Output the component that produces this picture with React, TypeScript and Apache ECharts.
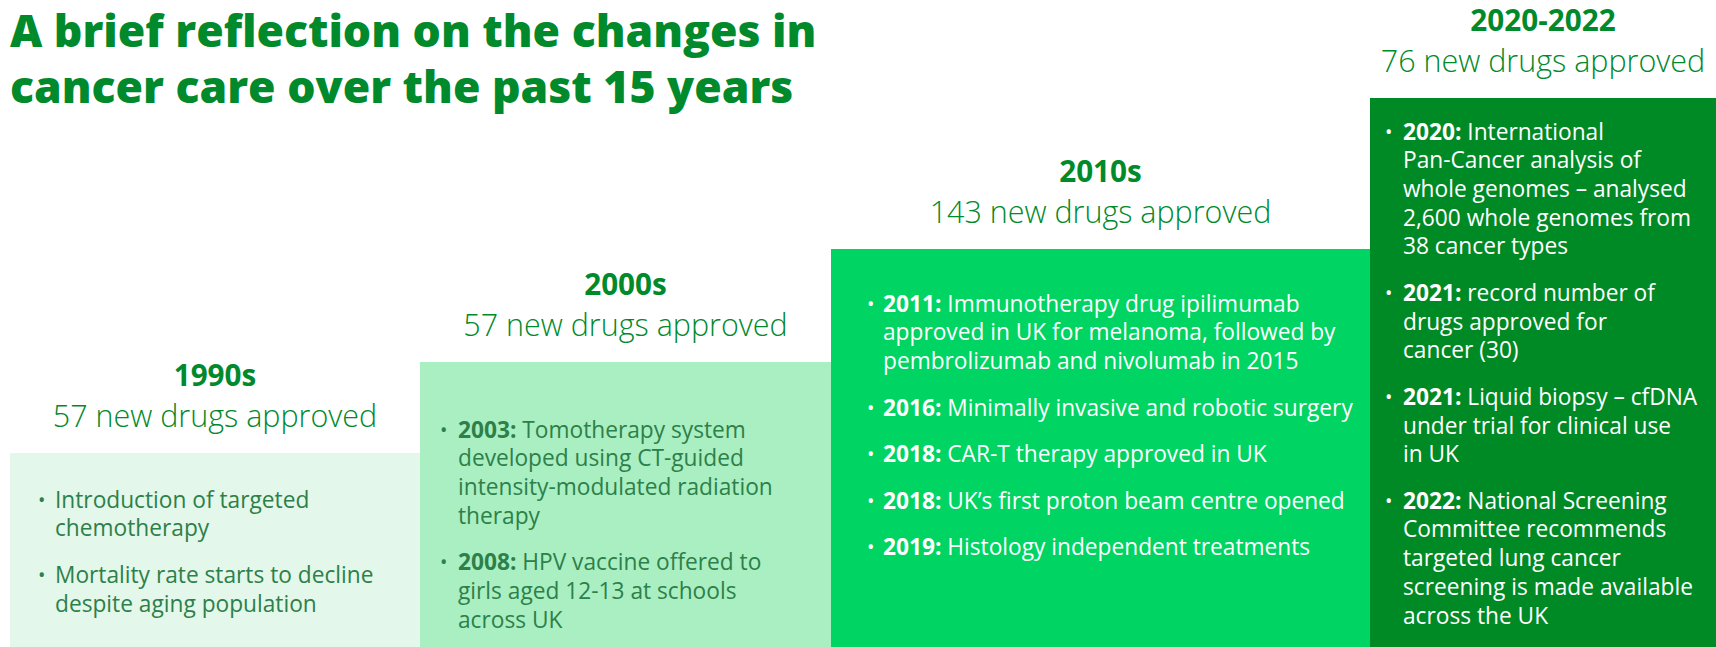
import React, { useEffect, useRef } from "react";
import * as echarts from "echarts";

// ---- data ----
const titleLines = [
  "A brief reflection on the changes in",
  "cancer care over the past 15 years",
];
const periods = ["1990s", "2000s", "2010s", "2020-2022"];
const newDrugsApproved = [57, 57, 143, 76];
// width of each step along the (hidden) horizontal axis
const stepSpans = [410, 411, 539, 346];
// height of each step along the (hidden) vertical axis
const stepLevels = [194, 285, 398, 549];

type Milestone = { year: string; lines: string[] };
const milestones1990s: Milestone[] = [
  { year: "", lines: ["Introduction of targeted", "chemotherapy"] },
  { year: "", lines: ["Mortality rate starts to decline", "despite aging population"] },
];
const milestones2000s: Milestone[] = [
  {
    year: "2003:",
    lines: [
      "Tomotherapy system",
      "developed using CT-guided",
      "intensity-modulated radiation",
      "therapy",
    ],
  },
  { year: "2008:", lines: ["HPV vaccine offered to", "girls aged 12-13 at schools", "across UK"] },
];
const milestones2010s: Milestone[] = [
  {
    year: "2011:",
    lines: [
      "Immunotherapy drug ipilimumab",
      "approved in UK for melanoma, followed by",
      "pembrolizumab and nivolumab in 2015",
    ],
  },
  { year: "2016:", lines: ["Minimally invasive and robotic surgery"] },
  { year: "2018:", lines: ["CAR-T therapy approved in UK"] },
  { year: "2018:", lines: ["UK\u2019s first proton beam centre opened"] },
  { year: "2019:", lines: ["Histology independent treatments"] },
];
const milestones2020s: Milestone[] = [
  {
    year: "2020:",
    lines: [
      "International",
      "Pan-Cancer analysis of",
      "whole genomes \u2013 analysed",
      "2,600 whole genomes from",
      "38 cancer types",
    ],
  },
  { year: "2021:", lines: ["record number of", "drugs approved for", "cancer (30)"] },
  { year: "2021:", lines: ["Liquid biopsy \u2013 cfDNA", "under trial for clinical use", "in UK"] },
  {
    year: "2022:",
    lines: [
      "National Screening",
      "Committee recommends",
      "targeted lung cancer",
      "screening is made available",
      "across the UK",
    ],
  },
];
const milestones = [milestones1990s, milestones2000s, milestones2010s, milestones2020s];

// ---- styles / layout ----
const FAMILY = "'Open Sans'";
const FONT = "'Open Sans', 'Noto Sans', sans-serif";
const TITLE_GREEN = "#008a2c";
const fills = ["#e3f8ea", "#a9efc2", "#00d462", "#008a26"];
const textColors = ["#2d8049", "#2d8049", "#ffffff", "#ffffff"];
const bulletOffsetX = [28, 20, 36, 15];
const textOffsetX = [45, 38, 52, 33];
const firstBaselineOffset = [55, 76, 63, 42];
const LINE_H = 28.7;
const BULLET_ADV = 46.5;
const HEAD_BASE = 66.5; // header baseline above step top
const SUB_BASE = 26; // subtitle baseline above step top
const TITLE_BASE = [47, 103];
const CENTRAL = 0.388; // central-baseline height above alphabetic baseline (em)
// text-width calibration samples (px widths seen in the reference layout)
const bodyCalibration: [string, number][] = [
  ["Mortality rate starts to decline", 338],
  ["approved in UK for melanoma, followed by", 452],
  ["pembrolizumab and nivolumab in 2015", 404],
  ["Histology independent treatments", 363],
  ["CAR-T therapy approved in UK", 319],
  ["whole genomes \u2013 analysed", 292],
  ["2,600 whole genomes from", 295],
  ["screening is made available", 293],
  ["Introduction of targeted", 270],
  ["Minimally invasive and robotic surgery", 366],
];

function measure(text: string, font: string) {
  const ctx = document.createElement("canvas").getContext("2d")!;
  ctx.font = font;
  return ctx.measureText(text).width;
}
function fitSize(samples: [string, number][], weight: number) {
  let m = 0;
  let t = 0;
  samples.forEach(([s, w]) => {
    m += measure(s, `${weight} 100px ${FAMILY}`);
    t += w;
  });
  return (100 * t) / m;
}

export default function App() {
  const ref = useRef<HTMLDivElement>(null);
  useEffect(() => {
    if (!ref.current) return;
    const chart = echarts.init(ref.current, undefined, { renderer: "svg" });

    const TITLE_SIZE = fitSize([[titleLines[0], 811], [titleLines[1], 779]], 800);
    const HEAD_SIZE = fitSize([["2020-2022", 152], ["1990s", 76]], 700);
    const SUB_SIZE = fitSize([["57 new drugs approved", 326], ["76 new drugs approved", 323]], 300);
    const BODY_SIZE = fitSize(bodyCalibration, 400);
    const YEAR_SIZE = BODY_SIZE;

    const data: number[][] = [];
    let acc = 0;
    stepSpans.forEach((w, i) => {
      data.push([acc, acc + w, stepLevels[i], i]);
      acc += w;
    });

    const renderItem = (params: any, api: any) => {
      const i = params.dataIndex;
      const tl = api.coord([api.value(0), api.value(2)]);
      const br = api.coord([api.value(1), 0]);
      const left = tl[0];
      const top = tl[1];
      const right = br[0];
      const bottom = br[1];
      const cx = (left + right) / 2;
      const col = textColors[i];
      const children: any[] = [
        {
          type: "rect",
          shape: { x: left, y: top, width: right - left, height: bottom - top },
          style: { fill: fills[i] },
        },
        {
          type: "text",
          x: cx,
          y: top - HEAD_BASE - CENTRAL * HEAD_SIZE,
          style: {
            text: periods[i],
            fill: TITLE_GREEN,
            font: `700 ${HEAD_SIZE}px ${FONT}`,
            lineHeight: 20,
            align: "center",
            verticalAlign: "middle",
          },
        },
        {
          type: "text",
          x: cx,
          y: top - SUB_BASE - CENTRAL * SUB_SIZE,
          style: {
            text: `${newDrugsApproved[i]} new drugs approved`,
            fill: TITLE_GREEN,
            font: `300 ${SUB_SIZE}px ${FONT}`,
            lineHeight: 24,
            align: "center",
            verticalAlign: "middle",
          },
        },
      ];
      let baseline = top + firstBaselineOffset[i];
      milestones[i].forEach((m, mi) => {
        if (mi > 0) baseline += BULLET_ADV;
        children.push({
          type: "text",
          x: left + bulletOffsetX[i],
          y: baseline - CENTRAL * BODY_SIZE,
          style: {
            text: "\u2022",
            fill: col,
            font: `400 ${BODY_SIZE - 3}px ${FONT}`,
            lineHeight: 16,
            align: "left",
            verticalAlign: "middle",
          },
        });
        m.lines.forEach((ln, li) => {
          if (li > 0) baseline += LINE_H;
          const txt =
            li === 0 && m.year ? `{b|${m.year}}{r| ${ln}}` : `{r|${ln}}`;
          children.push({
            type: "text",
            x: left + textOffsetX[i],
            y: baseline - CENTRAL * BODY_SIZE,
            style: {
              text: txt,
              align: "left",
              verticalAlign: "middle",
              rich: {
                b: {
                  fill: col,
                  fontFamily: FONT,
                  fontWeight: 700,
                  fontSize: YEAR_SIZE,
                  lineHeight: 22,
                },
                r: {
                  fill: col,
                  fontFamily: FONT,
                  fontWeight: 400,
                  fontSize: BODY_SIZE,
                  lineHeight: 22,
                },
              },
            },
          });
        });
      });
      return { type: "group", children };
    };

    chart.setOption({
      animation: false,
      backgroundColor: "#ffffff",
      grid: { left: 10, right: 0, top: 0, bottom: 0 },
      xAxis: { type: "value", min: 0, max: acc, show: false },
      yAxis: { type: "value", min: 0, max: 647, show: false },
      graphic: titleLines.map((t, k) => ({
        type: "text",
        x: 10,
        y: TITLE_BASE[k] - CENTRAL * TITLE_SIZE,
        style: {
          text: t,
          fill: TITLE_GREEN,
          font: `800 ${TITLE_SIZE}px ${FONT}`,
          lineHeight: 40,
          align: "left",
          verticalAlign: "middle",
        },
      })),
      series: [
        {
          type: "custom",
          renderItem,
          data,
          clip: false,
        },
      ],
    });
    return () => chart.dispose();
  }, []);
  return (
    <div
      ref={ref}
      style={{ position: "fixed", left: 0, top: 0, width: 1716, height: 647 }}
    />
  );
}
